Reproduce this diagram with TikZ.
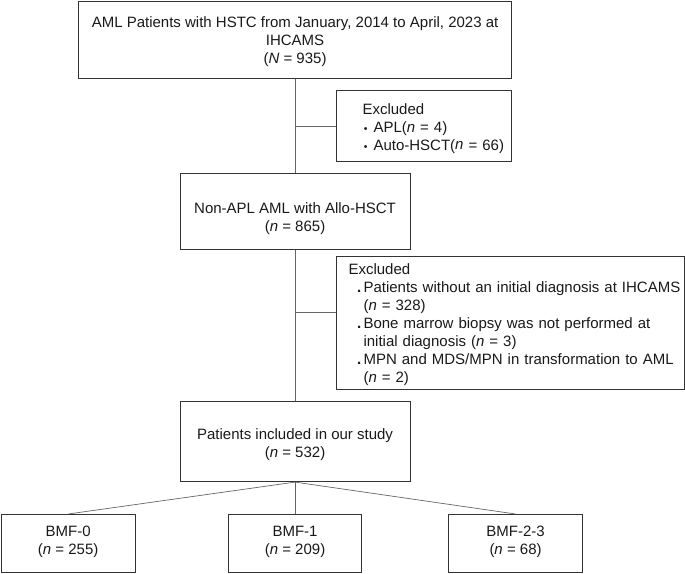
\documentclass[tikz,border=0pt]{standalone}
\usepackage{fontspec}
\setmainfont{Liberation Sans}

\begin{document}
\begin{tikzpicture}[x=1pt, y=-1pt, font=\fontsize{15}{18}\selectfont,
    box/.style={draw=black!80, line width=1.1pt, anchor=north west, inner sep=0pt, text=black!90},
    link/.style={draw=black!60, line width=0.7pt}]
  \useasboundingbox (0,0) rectangle (685,573);
  \node[box, minimum width=433pt, minimum height=77pt, align=center, text height=51.6pt] (all) at (78,0.6)
    {AML Patients with HSTC from January, 2014 to April, 2023 at\\IHCAMS\\(\textit{N} = 935)};
  \node[box, minimum width=175pt, minimum height=71pt, text width=175pt, align=left, text height=15pt] (exc1) at (336,90)
    {\leftskip=26pt Excluded\\
     \makebox[11pt][l]{\hspace{1.2pt}\scalebox{0.7}{\textbullet}}APL(\textit{n} = 4)\\
     \makebox[11pt][l]{\hspace{1.2pt}\scalebox{0.7}{\textbullet}}Auto-HSCT(\textit{n} = 66)\par};
  \node[box, minimum width=230pt, minimum height=76pt, align=center, text height=43.2pt] (nonapl) at (179.5,173)
    {Non-APL AML with Allo-HSCT\\(\textit{n} = 865)};
  \node[box, minimum width=348pt, minimum height=133pt, text width=348pt, align=left, text height=14pt] (exc2) at (336,256)
    {\leftskip=12pt Excluded\\
     \makebox[15pt][l]{\hspace{8.5pt}\textbf{.}}Patients without an initial diagnosis at IHCAMS\\
     \hspace*{15pt}(\textit{n} = 328)\\
     \makebox[15pt][l]{\hspace{8.5pt}\textbf{.}}Bone marrow biopsy was not performed at\\
     \hspace*{15pt}initial diagnosis (\textit{n} = 3)\\
     \makebox[15pt][l]{\hspace{8.5pt}\textbf{.}}MPN and MDS/MPN in transformation to AML\\
     \hspace*{15pt}(\textit{n} = 2)\par};
  \node[box, minimum width=230pt, minimum height=80pt, align=center, text height=35.2pt] (incl) at (179.5,401)
    {Patients included in our study\\(\textit{n} = 532)};
  \node[box, minimum width=134pt, minimum height=58pt, align=center, text height=25.2pt] (bmf0) at (0.6,514)
    {BMF-0\\(\textit{n} = 255)};
  \node[box, minimum width=133pt, minimum height=58pt, align=center, text height=25.2pt] (bmf1) at (228,514)
    {BMF-1\\(\textit{n} = 209)};
  \node[box, minimum width=134pt, minimum height=58pt, align=center, text height=25.2pt] (bmf23) at (448,514)
    {BMF-2-3\\(\textit{n} = 68)};
  \coordinate (cut2) at (294.5,312);
  \draw[link] (all.south) -- (nonapl.north);
  \draw[link] (exc1.west) -- (exc1.west -| all.south);
  \draw[link] (nonapl.south) -- (incl.north);
  \draw[link] (cut2) -- (cut2 -| exc2.west);
  \draw[link] (incl.south) -- (bmf0.north);
  \draw[link] (incl.south) -- (bmf1.north);
  \draw[link] (incl.south) -- (bmf23.north);
\end{tikzpicture}
\end{document}
